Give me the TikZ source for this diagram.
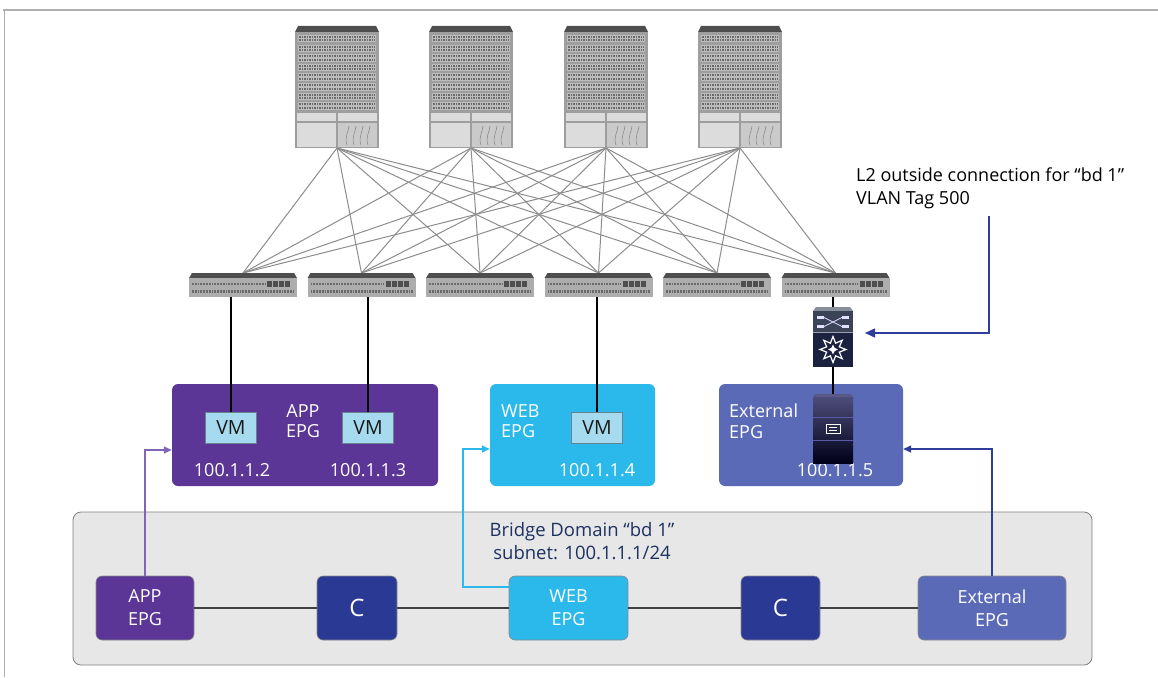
\documentclass[tikz,border=0pt]{standalone}
\usepackage{fontspec}
\setmainfont{Open Sans}
\usetikzlibrary{arrows.meta,shapes.geometric,calc}

% palette
\definecolor{appc}{HTML}{5B3696}
\definecolor{webc}{HTML}{2BB8EA}
\definecolor{extc}{HTML}{5A6AB6}
\definecolor{cc}{HTML}{2A3A94}
\definecolor{vmc}{HTML}{A6DBEF}
\definecolor{bdfill}{HTML}{E7E7E7}
\definecolor{bdtext}{HTML}{1E3262}
\definecolor{arrowblue}{HTML}{2E3C9A}
\definecolor{arrowpurple}{HTML}{8066B4}
\definecolor{capc}{HTML}{4E4E4E}
\definecolor{bodyc}{HTML}{9E9E9E}
\definecolor{portbg}{HTML}{BDBDBD}
\definecolor{portdk}{HTML}{6A6A6A}
\definecolor{panelc}{HTML}{DCDCDC}
\definecolor{fabricc}{HTML}{8C8C8C}
\definecolor{fwtop}{HTML}{3B4359}
\definecolor{fwbot}{HTML}{1B2240}
\definecolor{framec}{HTML}{B0B0B0}

\tikzset{
  % spine chassis, origin at top centre
  spinechassis/.pic={
    \fill[capc] (-39,0) -- (39,0) -- (42,6) -- (-42,6) -- cycle;
    \fill[bodyc] (-42,6) rectangle (42,122);
    \foreach \r in {0,...,7}{
      \fill[portbg] (-39,{9+\r*9.6}) rectangle (39,{16.5+\r*9.6});
      \draw[portdk, line width=2pt, dash pattern=on 1.5pt off 1pt]
        (-38,{11+\r*9.6}) -- (38,{11+\r*9.6});
      \draw[portdk, line width=2pt, dash pattern=on 1.5pt off 1pt]
        (-38,{14.5+\r*9.6}) -- (38,{14.5+\r*9.6});
    }
    \fill[panelc] (-40,87) rectangle (-1,95);
    \fill[panelc] (1,87) rectangle (40,95);
    \fill[panelc] (-40,97) rectangle (-1,121);
    \fill[panelc!92!black] (1,97) rectangle (40,121);
    \foreach \x in {10,17,24,31}
      \draw[fabricc, line width=.6pt] (\x,119) .. controls (\x-3,111) and (\x+2,105) .. (\x+2,100);
  },
  % leaf switch, origin at top centre
  leafswitch/.pic={
    \fill[capc] (-51,0) -- (51,0) -- (54,5) -- (-54,5) -- cycle;
    \fill[bodyc!85!white] (-54,5) rectangle (54,24);
    \draw[portdk, line width=2.6pt, dash pattern=on 1.8pt off 1pt] (-51,11) -- (22,11);
    \draw[portdk, line width=2.6pt, dash pattern=on 1.8pt off 1pt] (-51,18.5) -- (51,18.5);
    \foreach \i in {0,...,3}
      \fill[capc] ({24+\i*6},8) rectangle ({29.2+\i*6},14);
  },
  % firewall, origin at top centre
  firewallicon/.pic={
    \fill[fwtop!60!white] (-17,0) -- (17,0) -- (20,4) -- (-20,4) -- cycle;
    \fill[fwtop] (-20,4) rectangle (20,25);
    \fill[white!88!blue] (-16,9) rectangle (-9,12);
    \fill[white!88!blue] (-16,18) rectangle (-9,21);
    \fill[white!88!blue] (9,9) rectangle (16,12);
    \fill[white!88!blue] (9,18) rectangle (16,21);
    \draw[white!88!blue, line width=.8pt] (-9,10.5) -- (9,19.5) (-9,19.5) -- (9,10.5);
    \fill[fwbot] (-20,25) rectangle (20,60);
    \draw[fwtop!50!white, line width=.6pt] (-20,25) -- (20,25);
    \node[star, star points=8, star point ratio=1.9, draw=white, line width=1.2pt,
          minimum size=26pt, inner sep=0] at (0,42.5) {};
    \node[star, star points=4, star point ratio=2.2, fill=white,
          minimum size=10pt, inner sep=0] at (0,42.5) {};
  },
  % server, origin at top centre
  servericon/.pic={
    \shade[top color=black!55!blue!40!gray, bottom color=black!90!blue] (-20,3) rectangle (20,69);
    \fill[black!40!blue!30!gray] (-18,0) -- (18,0) -- (20,3) -- (-20,3) -- cycle;
    \draw[gray!70!blue, line width=.8pt] (-20,23) -- (20,23) (-20,46) -- (20,46);
    \draw[white, line width=.9pt] (-7,30.5) rectangle (7,39.5);
    \draw[white, line width=.7pt] (-4,33.5) -- (4,33.5) (-4,36.5) -- (4,36.5);
  },
  iconbox/.style={inner sep=0, outer sep=0},
  fabric/.style={fabricc, line width=1pt},
  link/.style={black, line width=1.3pt},
  epgbox/.style={rounded corners=6pt, inner sep=0, minimum height=102pt},
  vmbox/.style={fill=vmc, draw=vmc!60!black, line width=.5pt, inner sep=0,
                minimum width=51pt, minimum height=31pt, text=black!90,
                font=\fontsize{19.5}{21}\selectfont},
  boxtext/.style={text=white, inner sep=0, font=\fontsize{18}{20.5}\selectfont},
  bdnode/.style={rounded corners=6pt, draw=black!45, line width=.6pt, inner sep=0,
                 minimum height=64pt, text=white, align=center,
                 font=\fontsize{18}{23}\selectfont},
  bdline/.style={black!75, line width=1.8pt},
  tip/.style={-{Triangle[length=8pt,width=7pt]}},
}

\begin{document}
\begin{tikzpicture}[x=1pt,y=-1pt]
\useasboundingbox (0,0) rectangle (1158,677);

% page frame
\draw[framec, line width=2pt] (3,10) -- (1158,10);
\draw[framec, line width=1.2pt] (4.5,10) -- (4.5,677);

% spine and leaf footprints
\foreach \i/\x in {1/337,2/471,3/606,4/740}
  \node[iconbox, minimum width=84pt, minimum height=122pt] (s\i) at (\x,87) {};
\foreach \i/\x in {1/243,2/361.5,3/480,4/598.5,5/717,6/835.5}
  \node[iconbox, minimum width=108pt, minimum height=24pt] (l\i) at (\x,285) {};

% fabric cabling
\foreach \s in {1,...,4}
  \foreach \l in {1,...,6}
    \draw[fabric] (s\s.south) -- (l\l.north);

\foreach \i in {1,...,4} \pic at (s\i.north) {spinechassis};
\foreach \i in {1,...,6} \pic at (l\i.north) {leafswitch};

% endpoint group boxes
\node[epgbox, fill=appc, minimum width=266pt] (tapp) at (305,435) {};
\node[epgbox, fill=webc, minimum width=165pt] (tweb) at (572.5,435) {};
\node[epgbox, fill=extc, minimum width=184pt] (text) at (811,435) {};

\node[boxtext, align=center] (tapplbl) at (303,421) {APP\\EPG};
\node[boxtext, align=left, anchor=west] (tweblbl) at (501,421) {WEB\\EPG};
\node[boxtext, align=left, anchor=west] (textlbl) at (729,421) {External\\EPG};

\node[vmbox] (vm1) at (231,427.5) {VM};
\node[vmbox] (vm2) at (368,427.5) {VM};
\node[vmbox] (vm3) at (597,427.5) {VM};

\node[boxtext] (ip2) at (232,470) {100.1.1.2};
\node[boxtext] (ip3) at (368,470) {100.1.1.3};
\node[boxtext] (ip4) at (597,470) {100.1.1.4};
\node[boxtext] (ip5) at (835,470) {100.1.1.5};

% leaf downlinks
\draw[link] (vm1.north) -- (vm1.north |- l1.south);
\draw[link] (vm2.north) -- (vm2.north |- l2.south);
\draw[link] (vm3.north) -- (vm3.north |- l4.south);

% firewall and external server
\node[iconbox, minimum width=40pt, minimum height=60pt] (fw) at (833,337) {};
\node[iconbox, minimum width=40pt, minimum height=69pt] (sv) at (833,428.5) {};
\draw[link] (fw.north) -- (fw.north |- l6.south);
\draw[link] (fw.south) -- (sv.north);
\pic at (fw.north) {firewallicon};
\pic at (sv.north) {servericon};

% L2 outside annotation
\node[anchor=west, align=left, inner sep=0, font=\fontsize{18}{23}\selectfont]
  (l2lbl) at (856,188) {L2 outside connection for “bd 1”\\VLAN Tag 500};
\coordinate (l2top) at (989,216);
\draw[arrowblue, line width=1.5pt, -{Triangle[length=10pt,width=9pt]}]
  (l2top) |- ([xshift=12pt,yshift=4pt]fw.east);

% bridge domain
\node[draw=black!50, fill=bdfill, line width=.8pt, rounded corners=8pt,
      minimum width=1019pt, minimum height=153pt, inner sep=0] (bd) at (582.5,588.5) {};
\node[align=center, text=bdtext, inner sep=0, font=\fontsize{18.5}{23}\selectfont]
  (bdlbl) at (582,541) {Bridge Domain “bd 1”\\subnet: 100.1.1.1/24};

\node[bdnode, fill=appc, minimum width=98pt] (bapp) at (145,608) {APP\\EPG};
\node[bdnode, fill=cc, minimum width=80pt, font=\fontsize{24}{26}\selectfont] (bc1) at (357,608) {C};
\node[bdnode, fill=webc, minimum width=119pt] (bweb) at (568.5,608) {WEB\\EPG};
\node[bdnode, fill=cc, minimum width=79pt, font=\fontsize{24}{26}\selectfont] (bc2) at (780.5,608) {C};
\node[bdnode, fill=extc, minimum width=148pt] (bext) at (992,608) {External\\EPG};

\draw[bdline] (bapp.east) -- (bc1.west);
\draw[bdline] (bc1.east) -- (bweb.west);
\draw[bdline] (bweb.east) -- (bc2.west);
\draw[bdline] (bc2.east) -- (bext.west);

% membership arrows
\draw[arrowpurple, line width=1.4pt, tip] (bapp.north) |- ([yshift=-15pt]tapp.west);
\coordinate (webbend) at (463,449);
\draw[webc, line width=1.4pt, tip] ([yshift=21pt]bweb.west) -| (webbend) -- ([yshift=-14pt]tweb.west);
\draw[arrowblue, line width=1.4pt, tip] (bext.north) |- ([yshift=-14pt]text.east);

\end{tikzpicture}
\end{document}
